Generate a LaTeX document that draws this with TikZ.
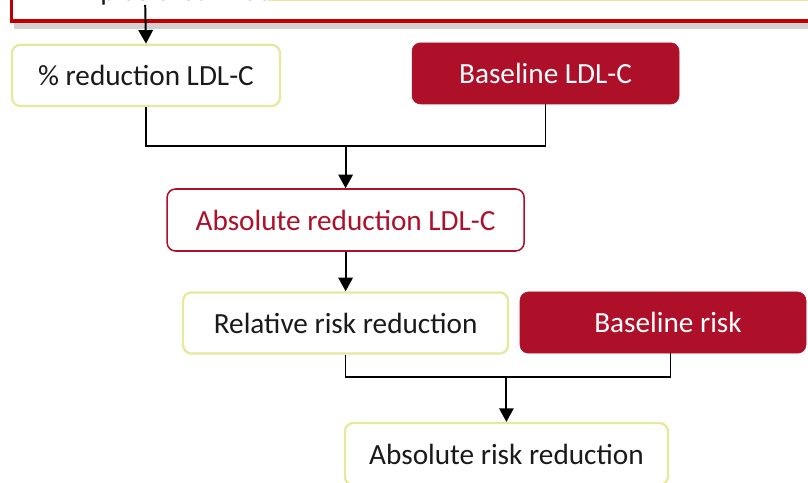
\documentclass[tikz,border=0pt]{standalone}
\usepackage{fontspec}
\setmainfont{Carlito}
\usetikzlibrary{arrows.meta, positioning, shadows}
\definecolor{lpred}{HTML}{AE1029}
\definecolor{lpframe}{HTML}{C00000}
\definecolor{lpyellow}{HTML}{E8E89C}
\definecolor{lptext}{HTML}{1A1A1A}

\begin{document}
\begin{tikzpicture}[
  boxfont/.style={font=\fontsize{20.8pt}{25pt}\selectfont},
  plainnode/.style={rectangle, draw=lpyellow, fill=white, line width=1.6pt, rounded corners=6pt, minimum height=1.53cm, boxfont, text=lptext},
  basenode/.style={rectangle, draw=lpred, fill=lpred, rounded corners=6pt, minimum height=1.53cm, boxfont, text=white},
  resultnode/.style={rectangle, draw=lpred, fill=white, line width=1.1pt, rounded corners=6pt, minimum height=1.55cm, boxfont, text=lpred},
  link/.style={black, line width=0.9pt},
  arr/.style={-{Triangle[length=0.34cm, width=0.36cm]}, black, line width=1.4pt},
]
  \useasboundingbox (0,0) rectangle (20.2,12.075);
  \clip (0,0) rectangle (20.2,12.075);

  % Top frame, cut off by the page
  \draw[lpframe, line width=2.2pt, fill=white, drop shadow={shadow xshift=0.06cm, shadow yshift=-0.2cm, opacity=0.3, fill=black!60}] (0.29,11.55) rectangle (21,13);
  \node[boxfont, text=lptext, anchor=base west, inner sep=0pt] (topnote) at (2.5,12.07) {plus ezetimibe};
  \draw[lpyellow, line width=1.2pt] (6.7,12.06) -- (20.2,12.06);
  \coordinate (topstart) at (3.63,11.95);

  % Upper row
  \node[plainnode, minimum width=6.7cm] (pct) at (3.65,10.19) {\% reduction LDL-C};
  \node[basenode, minimum width=6.675cm] (bldl) at (13.64,10.24) {Baseline LDL-C};
  \node[resultnode, minimum width=8.925cm] (absl) at (8.64,6.575) {Absolute reduction LDL-C};

  % Lower row
  \node[plainnode, minimum width=8.125cm] (rrr) at (8.64,4.0) {Relative risk reduction};
  \node[basenode, minimum width=7.15cm] (brisk) at (16.575,4.01) {\hspace{0.25cm}Baseline risk};
  \node[plainnode, minimum width=8.075cm, minimum height=1.55cm] (arr) at (12.66,0.725) {Absolute risk reduction};

  % Junctions
  \coordinate (j1) at (8.64,8.425);
  \coordinate (j2) at (12.66,2.65);

  \draw[arr] (topstart) -- (pct.north);
  \draw[link] (pct.south) |- (j1) -| (bldl.south);
  \draw[arr] (j1) -- (absl.north);
  \draw[arr] (absl.south) -- (rrr.north);
  \draw[link] (rrr.south) |- (j2) -| ([xshift=0.18cm]brisk.south);
  \draw[arr] (j2) -- (arr.north);
\end{tikzpicture}
\end{document}
